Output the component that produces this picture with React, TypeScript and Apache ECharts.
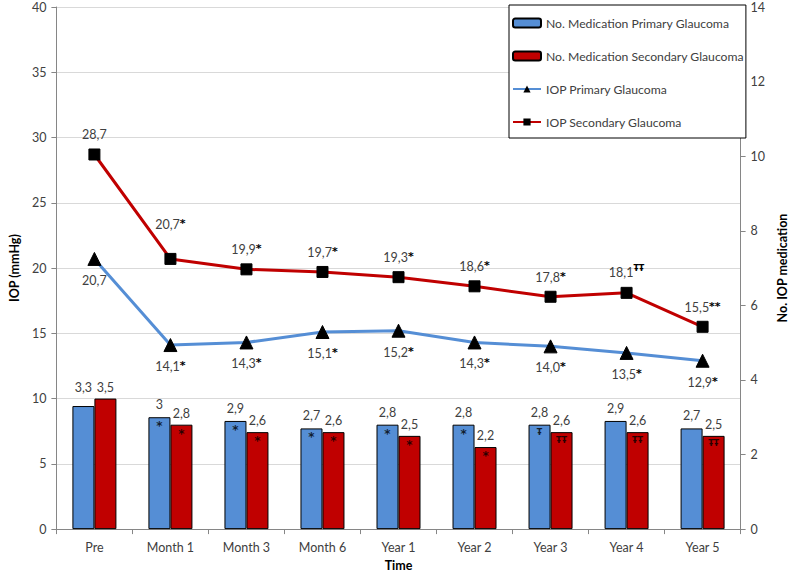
import React, { useEffect, useRef } from "react";
import * as echarts from "echarts";

const categories = ["Pre", "Month 1", "Month 3", "Month 6", "Year 1", "Year 2", "Year 3", "Year 4", "Year 5"];
const medPrimary = [3.3, 3, 2.9, 2.7, 2.8, 2.8, 2.8, 2.9, 2.7];
const medSecondary = [3.5, 2.8, 2.6, 2.6, 2.5, 2.2, 2.6, 2.6, 2.5];
const iopPrimary = [20.7, 14.1, 14.3, 15.1, 15.2, 14.3, 14.0, 13.5, 12.9];
const iopSecondary = [28.7, 20.7, 19.9, 19.7, 19.3, 18.6, 17.8, 18.1, 15.5];
const iopPrimaryMarks = ["", "*", "*", "*", "*", "*", "*", "*", "*"];
const iopSecondaryMarks = ["", "*", "*", "*", "*", "*", "*", "ŦŦ", "**"];
const medPrimaryMarks = ["", "*", "*", "*", "*", "*", "Ŧ", "", ""];
const medSecondaryMarks = ["", "*", "*", "*", "*", "*", "ŦŦ", "ŦŦ", "ŦŦ"];

const FONT = "Lato, 'Open Sans', sans-serif";
const MARKFONT = "'DejaVu Sans', sans-serif";
const BLUE = "#558ED5";
const RED = "#C00000";
const TXT = "#404040";

const fmtBar = (v: number) => String(v).replace(".", ",");
const fmtLine = (v: number) => v.toFixed(1).replace(".", ",");

export default function App() {
  const ref = useRef<HTMLDivElement>(null);
  useEffect(() => {
    document.body.style.margin = "0";
    if (!ref.current) return;
    const chart = echarts.init(ref.current, null, { renderer: "svg" });
    const markRich = {
      v: { fontSize: 12.5, color: TXT, fontFamily: FONT },
      m: { fontSize: 11, color: "#000", fontWeight: "bold", fontFamily: MARKFONT, padding: [0, 0, 2, 0] },
      t: { fontSize: 8, color: "#000", fontWeight: "bold", fontFamily: MARKFONT, padding: [0, 0, 7, 0] },
    };
    const lineLabel = (marks: string[]) => (p: any) => {
      const m = marks[p.dataIndex];
      const cls = m.indexOf("Ŧ") >= 0 ? "t" : "m";
      return `{v|${fmtLine(p.value)}}` + (m ? `{${cls}|${m}}` : "");
    };
    const insideMarks = (vals: number[], marks: string[], dx: number) =>
      vals.map((v, i) => {
        const isT = marks[i].indexOf("Ŧ") >= 0;
        return {
          value: [categories[i], v],
          label: {
            show: !!marks[i],
            formatter: marks[i],
            fontSize: isT ? 8 : 12,
            fontWeight: "bold",
            color: "#000",
            position: "bottom",
            distance: isT ? 4 : 3,
            offset: [dx, 0],
            fontFamily: MARKFONT,
          },
        };
      });

    chart.setOption({
      animation: false,
      textStyle: { fontFamily: FONT },
      grid: { left: 46, right: 46, top: 7, bottom: 44 },
      legend: {
        orient: "vertical",
        left: 509,
        top: 5,
        itemWidth: 28,
        itemHeight: 9,
        itemGap: 21,
        padding: [12, 2, 10, 3],
        borderColor: "#000",
        borderWidth: 1,
        backgroundColor: "#fff",
        textStyle: { fontSize: 12.2, color: TXT, fontFamily: FONT },
        data: [
          "No. Medication Primary Glaucoma",
          "No. Medication Secondary Glaucoma",
          "IOP Primary Glaucoma",
          "IOP Secondary Glaucoma",
        ],
      },
      xAxis: {
        type: "category",
        data: categories,
        name: "Time",
        nameLocation: "middle",
        nameGap: 29,
        nameTextStyle: { fontWeight: "bold", fontSize: 12.5, color: "#000", fontFamily: FONT },
        axisLine: { lineStyle: { color: "#868686" } },
        axisTick: { show: true, length: 5, lineStyle: { color: "#868686" } },
        axisLabel: { color: TXT, fontSize: 12.5, margin: 12, fontFamily: FONT },
      },
      yAxis: [
        {
          type: "value",
          min: 0,
          max: 40,
          interval: 5,
          name: "IOP (mmHg)",
          nameLocation: "middle",
          nameGap: 32,
          nameTextStyle: { fontWeight: "bold", fontSize: 12.5, color: "#000", fontFamily: FONT },
          axisLine: { show: true, lineStyle: { color: "#868686" } },
          axisTick: { show: true, length: 5, lineStyle: { color: "#868686" } },
          axisLabel: { color: TXT, fontSize: 12.5, margin: 10, fontFamily: FONT },
          splitLine: { lineStyle: { color: "#D9D9D9" } },
        },
        {
          type: "value",
          min: 0,
          max: 14,
          interval: 2,
          name: "No. IOP medication",
          nameLocation: "middle",
          nameGap: 30,
          nameRotate: 90,
          nameTextStyle: { fontWeight: "bold", fontSize: 12.5, color: "#000", fontFamily: FONT },
          axisLine: { show: true, lineStyle: { color: "#868686" } },
          axisTick: { show: true, length: 5, lineStyle: { color: "#868686" } },
          axisLabel: { color: TXT, fontSize: 12.5, margin: 10, fontFamily: FONT },
          splitLine: { show: false },
        },
      ],
      series: [
        {
          name: "No. Medication Primary Glaucoma",
          type: "bar",
          yAxisIndex: 1,
          data: medPrimary.map((v, i) => (i === 0 ? { value: v, label: { distance: 12 } } : v)),
          barWidth: 22,
          barGap: "0%",
          itemStyle: { color: BLUE, borderColor: "#000", borderWidth: 1 },
          label: { show: true, position: "top", distance: 6, color: TXT, fontSize: 12.5, formatter: (p: any) => fmtBar(p.value) },
          z: 2,
        },
        {
          name: "No. Medication Secondary Glaucoma",
          type: "bar",
          yAxisIndex: 1,
          data: medSecondary,
          barWidth: 22,
          barGap: "0%",
          itemStyle: { color: RED, borderColor: "#000", borderWidth: 1 },
          label: { show: true, position: "top", distance: 5, color: TXT, fontSize: 12.5, formatter: (p: any) => fmtBar(p.value) },
          z: 2,
        },
        {
          name: "IOP Primary Glaucoma",
          type: "line",
          yAxisIndex: 0,
          data: iopPrimary,
          symbol: "triangle",
          symbolSize: 13,
          lineStyle: { color: BLUE, width: 3 },
          itemStyle: { color: "#000", borderColor: "#000" },
          label: { show: true, position: "bottom", distance: 8, formatter: lineLabel(iopPrimaryMarks), rich: markRich },
          z: 5,
        },
        {
          name: "IOP Secondary Glaucoma",
          type: "line",
          yAxisIndex: 0,
          data: iopSecondary.map((v, i) => (i === 1 ? { value: v, label: { distance: 22 } } : v)),
          symbol: "rect",
          symbolSize: 11,
          lineStyle: { color: RED, width: 3 },
          itemStyle: { color: "#000", borderColor: "#000" },
          label: { show: true, position: "top", distance: 7, formatter: lineLabel(iopSecondaryMarks), rich: markRich },
          z: 5,
        },
        {
          name: "marksPrimary",
          type: "scatter",
          yAxisIndex: 1,
          symbolSize: 0,
          silent: true,
          data: insideMarks(medPrimary, medPrimaryMarks, -11),
          z: 4,
        },
        {
          name: "marksSecondary",
          type: "scatter",
          yAxisIndex: 1,
          symbolSize: 0,
          silent: true,
          data: insideMarks(medSecondary, medSecondaryMarks, 11),
          z: 4,
        },
      ],
    });
    return () => chart.dispose();
  }, []);
  return <div ref={ref} style={{ width: 797, height: 577 }} />;
}
